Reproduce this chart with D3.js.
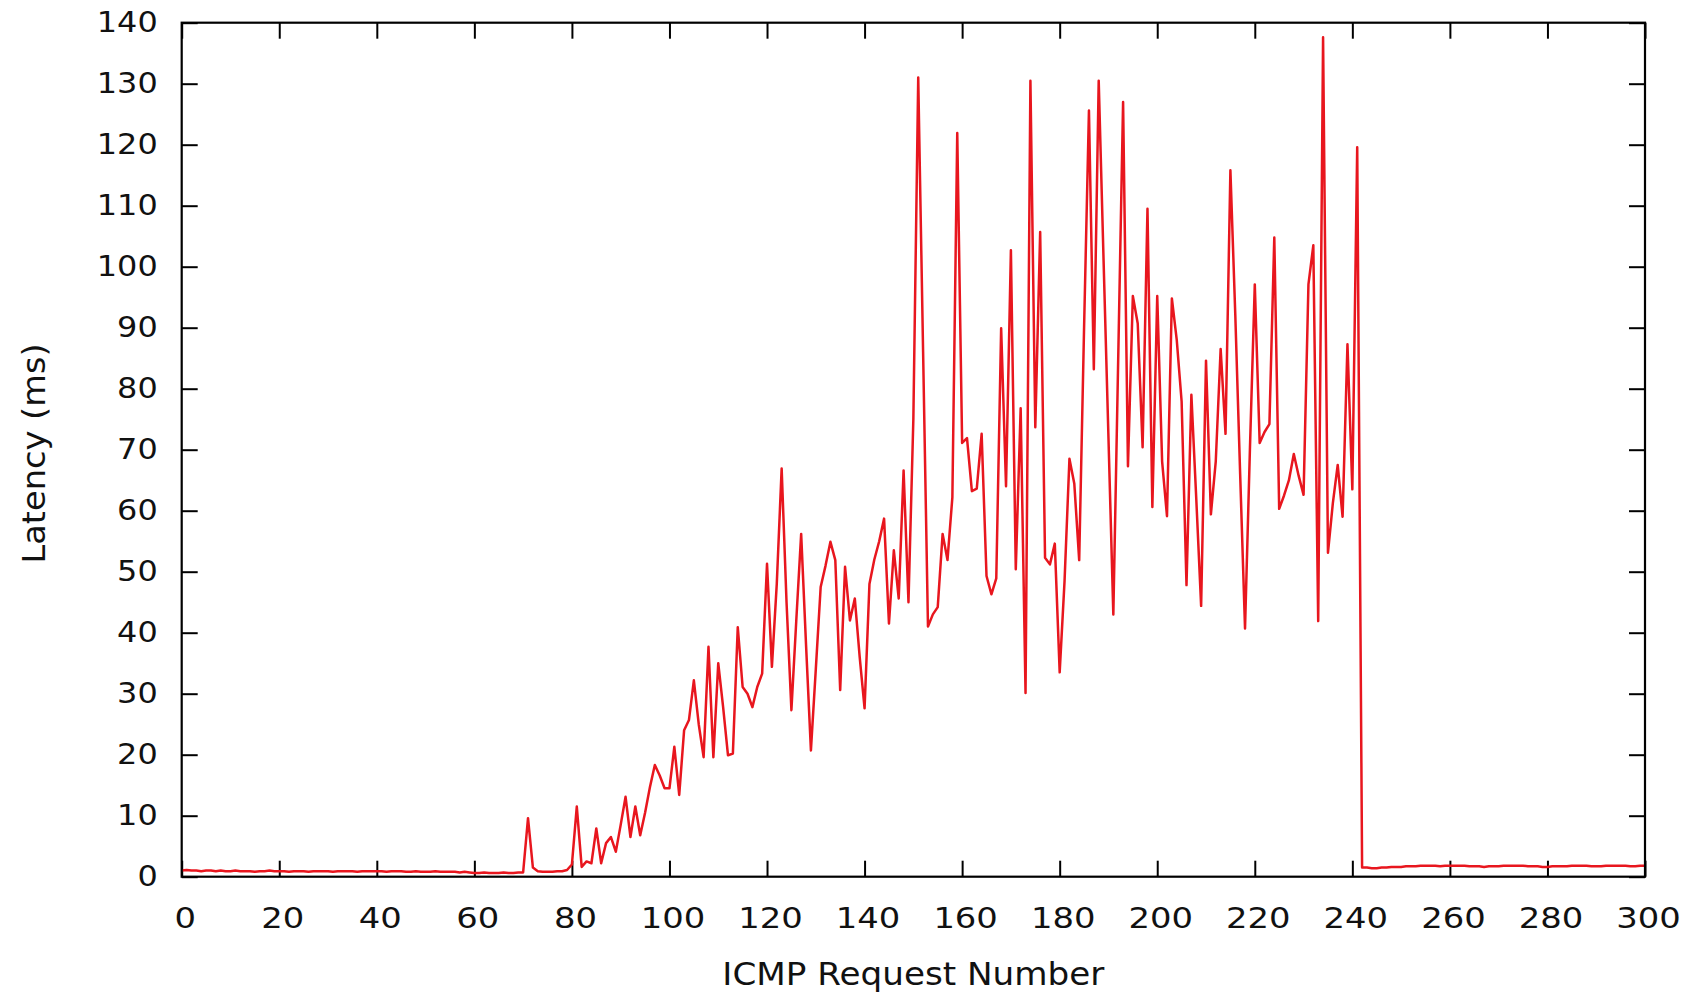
<!DOCTYPE html>
<html><head><meta charset="utf-8">
<script src="https://cdn.jsdelivr.net/npm/d3@7"></script>
<style>html,body{margin:0;padding:0;background:#fff}svg{display:block}</style>
</head><body><svg id="chart" width="1693" height="996"></svg>
<script>
// ---- data ----
const xTickValues = [0, 20, 40, 60, 80, 100, 120, 140, 160, 180, 200, 220, 240, 260, 280, 300];
const yTickValues = [0, 10, 20, 30, 40, 50, 60, 70, 80, 90, 100, 110, 120, 130, 140];
const xAxisTitle = "ICMP Request Number";
const yAxisTitle = "Latency (ms)";
// latency (ms) for ICMP requests 0..300
const latencyBaseline = [
  1.0,1.1,1.0,1.0,0.9,1.0,1.0,0.9,1.0,0.9,
  0.9,1.0,0.9,0.9,0.9,0.8,0.9,0.9,1.0,0.9,
  0.9,0.9,0.8,0.9,0.9,0.9,0.8,0.9,0.9,0.9,
  0.9,0.8,0.9,0.9,0.9,0.9,0.8,0.9,0.9,0.9,
  0.9,0.9,0.8,0.9,0.9,0.9,0.8,0.8,0.9,0.8,
  0.8,0.8,0.9,0.8,0.8,0.8,0.8,0.7,0.8,0.7,
  0.6,0.6,0.7,0.6,0.6,0.6,0.7,0.6,0.6,0.7
];
const latencyCongested = [
  0.7, 9.6, 1.5, 0.9, 0.8, 0.8, 0.8, 0.9, 0.9, 1.1,          // 70-79
  2.0, 11.5, 1.6, 2.5, 2.2, 7.9, 2.2, 5.5, 6.5, 4.1,         // 80-89
  8.5, 13.1, 6.5, 11.5, 6.8, 10.5, 14.7, 18.3, 16.6, 14.5,   // 90-99
  14.5, 21.3, 13.4, 24.0, 25.7, 32.2, 25.0, 19.6, 37.7, 19.6, // 100-109
  35.0, 27.8, 19.9, 20.2, 40.9, 31.1, 30.0, 27.8, 31.1, 33.3, // 110-119
  51.3, 34.4, 48.0, 66.9, 45.0, 27.3, 42.0, 56.2, 38.0, 20.7, // 120-129
  34.0, 47.5, 51.0, 54.9, 51.9, 30.6, 50.8, 42.0, 45.6, 36.0, // 130-139
  27.6, 48.0, 52.0, 55.0, 58.7, 41.5, 53.5, 45.6, 66.6, 45.0, // 140-149
  75.0, 131.0, 86.0, 41.0, 43.0, 44.2, 56.2, 51.9, 62.2, 121.9, // 150-159
  71.1, 71.9, 63.2, 63.6, 72.6, 49.3, 46.3, 48.9, 89.9, 64.0, // 160-169
  102.7, 50.4, 76.8, 30.1, 130.5, 73.7, 105.7, 52.3, 51.2, 54.6, // 170-179
  33.5, 48.5, 68.5, 64.4, 51.9, 90.0, 125.6, 83.2, 130.5, 101.0, // 180-189
  72.0, 43.0, 85.0, 127.0, 67.3, 95.2, 90.7, 70.4, 109.5, 60.6, // 190-199
  95.2, 68.1, 59.1, 94.8, 88.0, 77.9, 47.8, 79.0, 62.0, 44.4, // 200-209
  84.6, 59.4, 68.1, 86.5, 72.6, 115.8, 92.2, 66.0, 40.7, 70.0, // 210-219
  97.1, 71.1, 72.9, 74.2, 104.8, 60.3, 62.5, 65.0, 69.3, 65.7, // 220-229
  62.6, 97.1, 103.5, 41.9, 137.6, 53.1, 61.2, 67.5, 59.0, 87.3, // 230-239
  63.5, 119.6                                                 // 240-241
];
const latencyRecovered = [
  1.5,                                               // 242
  1.5,1.4,1.4,1.5,1.5,1.6,1.6,1.6,1.7,1.7,
  1.7,1.8,1.8,1.8,1.8,1.7,1.8,1.8,1.8,1.8,
  1.8,1.7,1.7,1.7,1.6,1.7,1.7,1.7,1.8,1.8,
  1.8,1.8,1.8,1.7,1.7,1.7,1.6,1.6,1.7,1.7,
  1.7,1.7,1.8,1.8,1.8,1.8,1.7,1.7,1.7,1.8,
  1.8,1.8,1.8,1.8,1.7,1.7,1.8,1.8
];
const latency = latencyBaseline.concat(latencyCongested, latencyRecovered);

// ---- layout ----
const W = 1693, H = 996;
const plot = {left: 181.7, right: 1645, top: 22.7, bottom: 876.7};
const svg = d3.select("#chart");
svg.append("rect").attr("width", W).attr("height", H).attr("fill", "#fff");

const x = d3.scaleLinear().domain([0, 300]).range([plot.left, plot.right]);
const y = d3.scaleLinear().domain([0, 140]).range([plot.bottom, plot.top]);

const tickLen = 16;
const font = "'DejaVu Sans', sans-serif";

// mirrored ticks (top/right)
svg.append("g").attr("transform", `translate(0,${plot.top})`)
  .call(d3.axisTop(x).tickValues(xTickValues).tickSizeInner(-tickLen).tickSizeOuter(0).tickFormat(""))
  .call(g => g.select(".domain").remove());
svg.append("g").attr("transform", `translate(${plot.right},0)`)
  .call(d3.axisRight(y).tickValues(yTickValues).tickSizeInner(-tickLen).tickSizeOuter(0).tickFormat(""))
  .call(g => g.select(".domain").remove());

// bottom axis
const gx = svg.append("g").attr("transform", `translate(0,${plot.bottom})`)
  .call(d3.axisBottom(x).tickValues(xTickValues).tickSizeInner(-tickLen).tickSizeOuter(0).tickPadding(31).tickFormat(d3.format("d")));
gx.select(".domain").remove();
gx.selectAll("text").attr("font-family", font).attr("font-size", 29).attr("fill", "#111")
  .attr("dx", 3)
  .attr("textLength", d => String(d).length * 21.5).attr("lengthAdjust", "spacingAndGlyphs");

// left axis
const gy = svg.append("g").attr("transform", `translate(${plot.left},0)`)
  .call(d3.axisLeft(y).tickValues(yTickValues).tickSizeInner(-tickLen).tickSizeOuter(0).tickPadding(24).tickFormat(d3.format("d")));
gy.select(".domain").remove();
gy.selectAll("text").attr("font-family", font).attr("font-size", 29).attr("fill", "#111")
  .attr("textLength", d => String(d).length * 20.3).attr("lengthAdjust", "spacingAndGlyphs");

svg.selectAll(".tick line").attr("stroke", "#000").attr("stroke-width", 2);

// data line
const line = d3.line().x((d, i) => x(i)).y(d => y(d));
svg.append("path").datum(latency)
  .attr("d", line).attr("fill", "none")
  .attr("stroke", "#e8161e").attr("stroke-width", 2.5).attr("stroke-linejoin", "round");

// frame
svg.append("rect")
  .attr("x", plot.left).attr("y", plot.top)
  .attr("width", plot.right - plot.left).attr("height", plot.bottom - plot.top)
  .attr("fill", "none").attr("stroke", "#000").attr("stroke-width", 2.2);

// axis titles
svg.append("text").attr("x", (plot.left + plot.right) / 2).attr("y", 985)
  .attr("text-anchor", "middle").attr("font-family", font).attr("font-size", 32).attr("fill", "#111")
  .attr("textLength", 382).attr("lengthAdjust", "spacingAndGlyphs")
  .text(xAxisTitle);
svg.append("text").attr("transform", "translate(45,453.5) rotate(-90)")
  .attr("text-anchor", "middle").attr("font-family", font).attr("font-size", 32).attr("fill", "#111")
  .attr("textLength", 220).attr("lengthAdjust", "spacingAndGlyphs")
  .text(yAxisTitle);
</script>
</body></html>
